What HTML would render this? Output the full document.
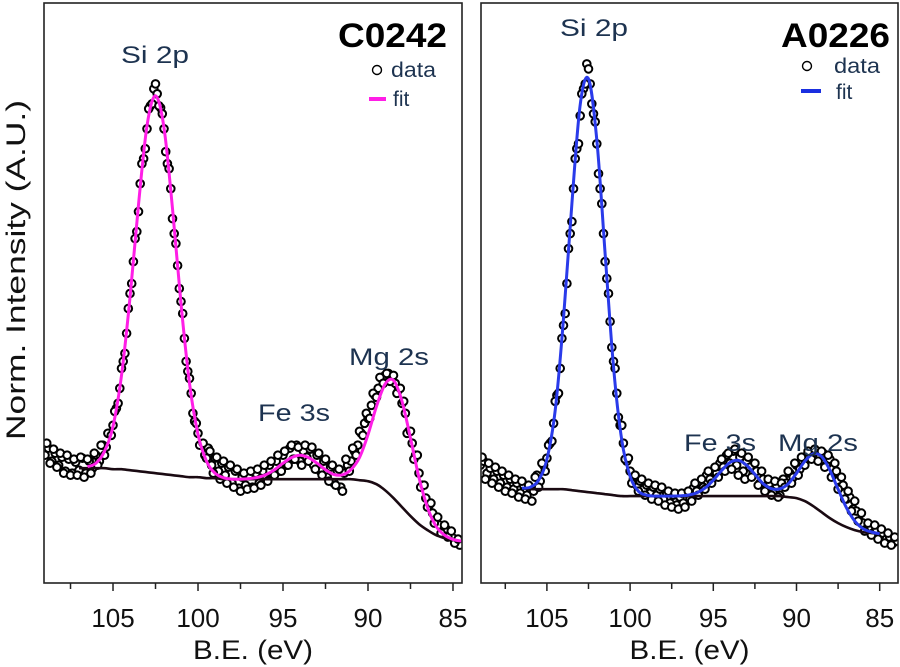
<!DOCTYPE html>
<html><head><meta charset="utf-8"><style>
html,body{margin:0;padding:0;background:#fff;width:900px;height:667px;overflow:hidden}
svg{display:block;font-family:"Liberation Sans",sans-serif}
</style></head><body>
<svg id="chart" width="900" height="667" viewBox="0 0 900 667" xmlns="http://www.w3.org/2000/svg">
<text transform="translate(25,270) rotate(-90)" text-anchor="middle" font-size="27" textLength="340" lengthAdjust="spacingAndGlyphs" fill="#111">Norm. Intensity (A.U.)</text>
</svg>
<script>
// ---- Panel C0242 ----
const fitEvC = [106.5,106,105.5,105,104.5,104,103.5,103,102.5,102,101.5,101,100.5,100,99.5,99,98.5,98,97.5,97,96.5,96,95.5,95,94.5,94,93.5,93,92.5,92,91.5,91,90.5,90,89.5,89,88.5,88,87.5,87,86.5,86,85.5,85,84.5];
const fitC = [116.5,120,132,157,208,286,379,458,488,456,375,280,200,149,122,110,105.5,104,104,104.6,105.8,108.6,113.5,120,125.6,128,125.6,120,113.5,108.6,108.4,113.6,125.7,148.6,177,199,203,182,145,105.6,75.7,57,48,43.7,42];
const baseEvC = [107,106.5,106,105.5,105,104.5,104,103.5,103,102.5,102,101.5,101,100.5,100,99.5,99,98.5,98,97.5,97,96.5,96,95.5,95,94.5,94,93.5,93,92.5,92,91.5,91,90.5,90,89.5,89,88.5,88,87.5,87,86.5,86,85.5,85,84.5];
const baseC = [115,115,115,115,114,114,113,112,111,110,109,108,107,106,106,105,105,104,104,104,104,104,104,104,104,104,104,104,104,104,104,104,104,103,102,99,93,85,76,67,59,53,48,45,43,42];
const dataStartC = 109.0, dataStepC = 0.2;
const dataC = [128,135,122,130,118,126,112,124,110,121,113,125,110,122,115,128,122,138,136,150,158,175,195,222,250,290,322,352,400,425,455,478,495,490,476,455,420,395,350,318,282,245,212,190,162,150,138,128,135,118,125,112,120,108,116,100,112,95,106,98,108,96,110,100,112,104,118,108,122,112,128,118,135,124,138,122,132,126,134,118,128,112,122,106,116,100,112,96,110,118,122,132,138,150,160,165,178,188,195,205,208,210,205,200,194,180,170,152,140,128,110,98,85,78,70,62,58,52,54,48,45,40,38];
const dataStartC2 = 108.9, dataStepC2 = 0.2;
const dataC2 = [140,120,134,116,130,110,128,108,124,108,126,106,124,110,130,118,138,128,150,148,172,180,215,230,275,300,345,372,420,435,475,480,500,478,470,432,415,365,340,295,270,222,205,170,160,138,140,125,132,110,126,104,122,100,118,96,114,92,110,94,112,95,114,98,118,102,122,108,128,112,132,118,138,124,136,118,138,122,136,114,130,108,124,102,118,98,114,92,124,112,135,128,152,148,170,165,190,186,206,200,210,202,208,190,195,182,150,152,124,128,96,98,76,80,60,66,50,58,46,52,40,44];
// ---- Panel A0226 ----
const fitEvA = [106.5,106,105.5,105,104.5,104,103.5,103,102.5,102,101.5,101,100.5,100,99.5,99,98.5,98,97.5,97,96.5,96,95.5,95,94.5,94,93.5,93,92.5,92,91.5,91,90.5,90,89.5,89,88.5,88,87.5,87,86.5,86,85.5,85];
const fitA = [95,96,103,124,173,265,380,479,505,444,330,217,143,107,92,88,87,87,87,87.3,88.1,90.3,95.1,103,112.7,120.7,122.9,118,108.9,99.5,94.5,94.4,99.3,109.9,122,129.4,126.8,113.3,94,75.4,62.1,54.4,51.1,49.3];
const baseEvA = [106.5,106,105.5,105,104.5,104,103.5,103,102.5,102,101.5,101,100.5,100,99.5,99,98.5,98,97.5,97,96.5,96,95.5,95,94.5,94,93.5,93,92.5,92,91.5,91,90.5,90,89.5,89,88.5,88,87.5,87,86.5,86,85.5,85];
const baseA = [95,94,94,94,94,94,93,92,91,90,89,88,87,87,87,87,87,87,87,87,87,87,87,87,87,87,87,87,87,87,87,87,86,85,82,77,71,65,60,56,53,51,50,49];
const dataStartA = 109.0, dataStepA = 0.2;
const dataA = [118,122,110,115,104,112,100,108,96,104,94,100,90,98,88,95,92,108,102,118,125,140,160,188,215,258,300,350,395,435,468,495,520,500,470,440,395,350,305,262,222,190,158,140,122,112,104,98,102,94,98,90,96,88,94,84,90,80,88,78,86,80,90,84,95,92,100,96,108,104,112,110,120,116,128,120,132,118,126,112,122,116,110,112,100,104,94,100,90,98,88,104,100,110,106,118,114,126,124,130,128,132,126,130,118,124,108,112,96,98,84,86,74,72,62,60,54,56,50,54,46,50,44,46,40,42];
const dataStartA2 = 108.9, dataStepA2 = 0.2;
const dataA2 = [126,104,120,100,116,96,112,92,108,90,104,86,102,84,98,82,106,96,120,112,138,142,182,190,245,270,335,362,425,440,490,500,515,480,462,410,380,322,290,236,215,166,158,124,125,100,108,92,104,88,100,84,98,82,96,78,92,76,90,74,90,76,92,82,100,88,104,94,112,100,116,106,124,112,130,114,134,108,130,104,126,106,120,98,112,92,104,88,102,86,100,96,112,100,120,108,126,118,132,124,134,122,132,116,128,106,120,94,106,84,92,72,82,62,70,52,60,48,58,44,54,40,50,38,46];
const tickLabels = [105,100,95,90,85];
const minorTicks = [107.5,102.5,97.5,92.5,87.5];

const NS = "http://www.w3.org/2000/svg";
const svg = document.getElementById('chart');
function mk(tag, attrs, parent){const e=document.createElementNS(NS,tag);for(const k in attrs)e.setAttribute(k,attrs[k]);(parent||svg).appendChild(e);return e;}
function smooth(pts){let d=`M${pts[0][0]},${pts[0][1]}`;for(let i=0;i<pts.length-1;i++){const p0=pts[Math.max(0,i-1)],p1=pts[i],p2=pts[i+1],p3=pts[Math.min(pts.length-1,i+2)];const c1=[p1[0]+(p2[0]-p0[0])/6,p1[1]+(p2[1]-p0[1])/6],c2=[p2[0]-(p3[0]-p1[0])/6,p2[1]-(p3[1]-p1[1])/6];d+=`C${c1[0].toFixed(1)},${c1[1].toFixed(1)} ${c2[0].toFixed(1)},${c2[1].toFixed(1)} ${p2[0].toFixed(1)},${p2[1].toFixed(1)}`;}return d;}

function panel(cfg){
  const {x0,x1,evL,evR,top,bottom,color,fitEv,fit,baseEv,base,sets,name} = cfg;
  const X = ev => x0 + (evL-ev)/(evL-evR)*(x1-x0);
  const Y = v => bottom - v*(bottom-top)/581;
  const g = mk('g',{});
  
  
  const clipId = name+'-clip';
  const cp = mk('clipPath',{id:clipId},g); mk('rect',{x:x0,y:top,width:x1-x0,height:bottom-top},cp);
  const plot = mk('g',{'clip-path':`url(#${clipId})`},g);
  sets.forEach(s=>{
    for(let i=0;i<s.data.length;i++){
      const c = mk('circle',{cx:X(s.start-i*s.step).toFixed(1),cy:Y(s.data[i]).toFixed(1),r:3.8,fill:'#fff',stroke:'#000','stroke-width':2},plot);
      
      
    }
  });
  const bp = mk('path',{d:smooth(baseEv.map((e,i)=>[X(e),Y(base[i])])),fill:'none',stroke:'#1a0a12','stroke-width':2.6},plot);
  
  
  const fp = mk('path',{d:smooth(fitEv.map((e,i)=>[X(e),Y(fit[i])])),fill:'none',stroke:color,'stroke-width':3},plot);
  
  
  const fr = mk('rect',{x:x0,y:top,width:x1-x0,height:bottom-top,fill:'none',stroke:'#222','stroke-width':1.6},g);
  
  
  tickLabels.forEach(t=>{
    mk('line',{x1:X(t),x2:X(t),y1:bottom,y2:bottom+8,stroke:'#222','stroke-width':1.5},g);
    const tx = mk('text',{x:X(t),y:bottom+44,'text-anchor':'middle','font-size':26,fill:'#111'},g);
    tx.textContent = t;
    
    
  });
  minorTicks.forEach(t=>{ if(X(t)>x0) mk('line',{x1:X(t),x2:X(t),y1:bottom,y2:bottom+6,stroke:'#222','stroke-width':1.5},g); });
  const xt = mk('text',{x:(x0+x1)/2,y:bottom+76,'text-anchor':'middle','font-size':27,textLength:120,lengthAdjust:'spacingAndGlyphs',fill:'#111'},g);
  xt.textContent='B.E. (eV)';
  
  
}
panel({name:'c0242',x0:44,x1:462,evL:109.06,evR:84.47,top:3,bottom:583,color:'#ff1ee6',fitEv:fitEvC,fit:fitC,baseEv:baseEvC,base:baseC,sets:[{start:dataStartC,step:dataStepC,data:dataC},{start:dataStartC2,step:dataStepC2,data:dataC2}]});
panel({name:'a0226',x0:481,x1:898,evL:108.96,evR:83.9,top:3,bottom:583,color:'#2a3bea',fitEv:fitEvA,fit:fitA,baseEv:baseEvA,base:baseA,sets:[{start:dataStartA,step:dataStepA,data:dataA},{start:dataStartA2,step:dataStepA2,data:dataA2}]});
</script>
<svg style="position:absolute;left:0;top:0" width="900" height="667" xmlns="http://www.w3.org/2000/svg" font-family="Liberation Sans, sans-serif">
<g fill="#1d3350" font-size="24">
<text x="155" y="63" text-anchor="middle" textLength="68" lengthAdjust="spacingAndGlyphs">Si 2p</text>
<text x="294" y="421" text-anchor="middle" textLength="72" lengthAdjust="spacingAndGlyphs">Fe 3s</text>
<text x="389" y="365" text-anchor="middle" textLength="80" lengthAdjust="spacingAndGlyphs">Mg 2s</text>
<text x="594" y="36" text-anchor="middle" textLength="68" lengthAdjust="spacingAndGlyphs">Si 2p</text>
<text x="720" y="451" text-anchor="middle" textLength="72" lengthAdjust="spacingAndGlyphs">Fe 3s</text>
<text x="818" y="451" text-anchor="middle" textLength="80" lengthAdjust="spacingAndGlyphs">Mg 2s</text>
</g>
<text x="447" y="47" text-anchor="end" font-size="34" font-weight="bold" fill="#000" textLength="109" lengthAdjust="spacingAndGlyphs">C0242</text>
<text x="890" y="47" text-anchor="end" font-size="34" font-weight="bold" fill="#000" textLength="109" lengthAdjust="spacingAndGlyphs">A0226</text>
<g font-size="21" fill="#1d3350">
<circle cx="377" cy="70" r="4.5" fill="#fff" stroke="#000" stroke-width="1.4"/>
<text x="391" y="77" textLength="45" lengthAdjust="spacingAndGlyphs">data</text>
<line x1="369" y1="99" x2="386" y2="99" stroke="#ff1ee6" stroke-width="4"/>
<text x="393" y="106">fit</text>
</g>
<g font-size="21" fill="#1d3350">
<circle cx="807" cy="66" r="4.5" fill="#fff" stroke="#000" stroke-width="1.4"/>
<text x="834" y="73" textLength="46" lengthAdjust="spacingAndGlyphs">data</text>
<line x1="801" y1="91" x2="821" y2="91" stroke="#1a2fe0" stroke-width="4"/>
<text x="836" y="99">fit</text>
</g>
</svg>
</body></html>
